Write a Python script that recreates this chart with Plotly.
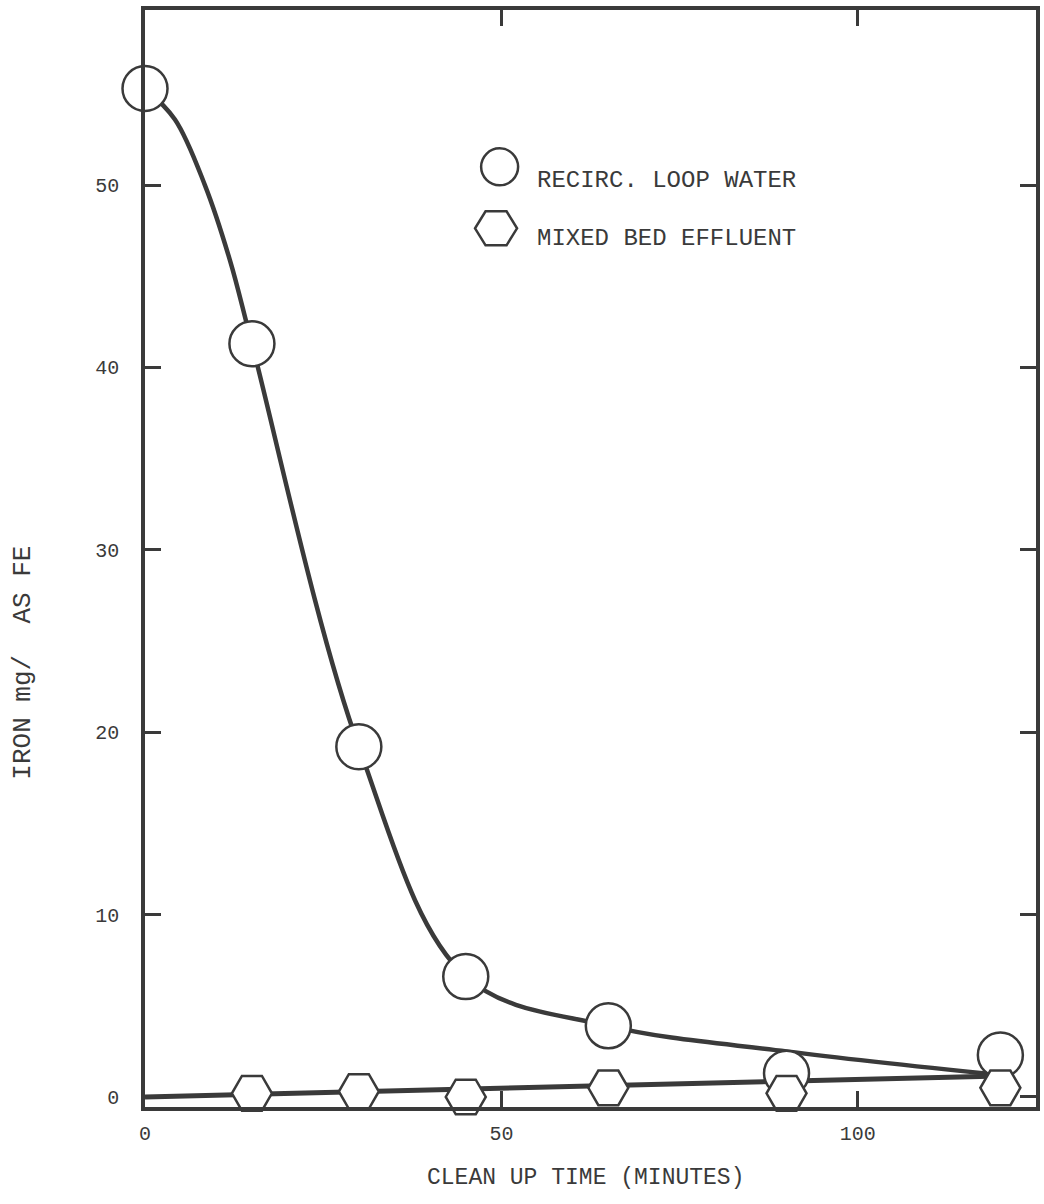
import plotly.graph_objects as go

# Sampling times (minutes) and measured iron (mg/l as Fe)
recirc_time = [0, 15, 30, 45, 65, 90, 120]
recirc_iron = [55.3, 41.3, 19.2, 6.6, 3.9, 1.3, 2.3]

mixed_time = [15, 30, 45, 65, 90, 120]
mixed_iron = [0.2, 0.3, 0.0, 0.5, 0.2, 0.5]

# Hand-faired curves through the two data sets
recirc_fit_time = [0, 4.2, 8.4, 11.9, 15, 30, 45, 65, 90, 120]
recirc_fit_iron = [55.3, 53.6, 50.0, 45.9, 41.3, 19.2, 6.6, 3.9, 2.5, 1.2]

mixed_fit_time = [0, 120]
mixed_fit_iron = [0.0, 1.15]

x_ticks = [0, 50, 100]
y_ticks = [0, 10, 20, 30, 40, 50]

INK = "#3a3a3a"
FONT = "Liberation Mono, Courier New, monospace"

fig = go.Figure()

fig.add_trace(go.Scatter(
    x=recirc_fit_time, y=recirc_fit_iron, mode="lines",
    line=dict(color=INK, width=4.5, shape="spline", smoothing=1.0),
    hoverinfo="skip", showlegend=False,
))
fig.add_trace(go.Scatter(
    x=mixed_fit_time, y=mixed_fit_iron, mode="lines",
    line=dict(color=INK, width=5),
    hoverinfo="skip", showlegend=False,
))
fig.add_trace(go.Scatter(
    x=recirc_time, y=recirc_iron, mode="markers", name="RECIRC. LOOP WATER",
    marker=dict(symbol="circle", size=45, color="white",
                line=dict(color=INK, width=2.5)),
    cliponaxis=False, showlegend=False,
))
fig.add_trace(go.Scatter(
    x=mixed_time, y=mixed_iron, mode="markers", name="MIXED BED EFFLUENT",
    marker=dict(symbol="hexagon2", size=40, color="white",
                line=dict(color=INK, width=2.5)),
    cliponaxis=False, showlegend=False,
))

# Key drawn inside the plot area
shapes = [
    dict(type="circle", xref="paper", yref="paper",
         xsizemode="pixel", ysizemode="pixel",
         xanchor=0.398, yanchor=0.857,
         x0=-18.5, x1=18.5, y0=-18.5, y1=18.5,
         line=dict(color=INK, width=2.5), fillcolor="white"),
    dict(type="path", xref="paper", yref="paper",
         xsizemode="pixel", ysizemode="pixel",
         xanchor=0.394, yanchor=0.801,
         path="M-21,0 L-10.5,-17 L10.5,-17 L21,0 L10.5,17 L-10.5,17 Z",
         line=dict(color=INK, width=2.5), fillcolor="white"),
]

annotations = [
    dict(text="RECIRC. LOOP WATER", xref="paper", yref="paper",
         x=0.438, y=0.845, xanchor="left", yanchor="middle", showarrow=False,
         font=dict(family=FONT, size=24, color=INK)),
    dict(text="MIXED BED EFFLUENT", xref="paper", yref="paper",
         x=0.438, y=0.792, xanchor="left", yanchor="middle", showarrow=False,
         font=dict(family=FONT, size=24, color=INK)),
    dict(text="CLEAN UP TIME (MINUTES)", xref="paper", yref="paper",
         x=0.494, y=-0.065, xanchor="center", yanchor="middle", showarrow=False,
         font=dict(family=FONT, size=23, color=INK)),
    dict(text="IRON mg/  AS FE", xref="paper", yref="paper",
         x=-0.137, y=0.405, xanchor="center", yanchor="middle", showarrow=False,
         textangle=-90, font=dict(family=FONT, size=26, color=INK)),
]

fig.update_layout(
    width=1044, height=1204,
    margin=dict(l=145, r=4, t=10, b=97),
    paper_bgcolor="white", plot_bgcolor="white",
    shapes=shapes, annotations=annotations,
    font=dict(family=FONT, size=20, color=INK),
)

fig.update_xaxes(
    range=[0, 125], tickvals=x_ticks, ticktext=[str(v) for v in x_ticks],
    ticks="inside", ticklen=16, tickwidth=2.5, tickcolor=INK,
    showline=True, linewidth=3.5, linecolor=INK, mirror="ticks",
    showgrid=False, zeroline=False, ticklabelstandoff=5,
    tickfont=dict(family=FONT, size=20, color=INK),
)
fig.update_yaxes(
    range=[-0.55, 59.6], tickvals=y_ticks, ticktext=[str(v) for v in y_ticks],
    ticks="inside", ticklen=16, tickwidth=2.5, tickcolor=INK,
    showline=True, linewidth=3.5, linecolor=INK, mirror="ticks",
    showgrid=False, zeroline=False, ticklabelstandoff=18,
    tickfont=dict(family=FONT, size=20, color=INK),
)

fig.write_html("out.html")
